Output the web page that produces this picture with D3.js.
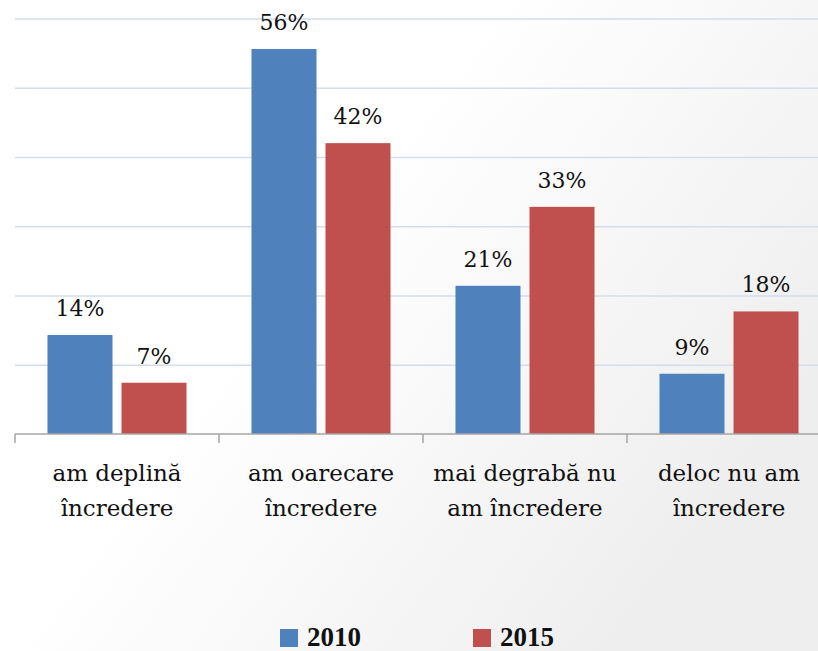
<!DOCTYPE html>
<html>
<head>
<meta charset="utf-8">
<script src="https://cdn.jsdelivr.net/npm/d3@7"></script>
<style>
  html, body { margin: 0; padding: 0; background: #fff; }
  svg { display: block; }
</style>
</head>
<body>
<svg id="chart" width="818" height="651"></svg>
<script>
const categories = [["am deplină", "încredere"], ["am oarecare", "încredere"], ["mai degrabă nu", "am încredere"], ["deloc nu am", "încredere"]];
const series = ["2010", "2015"];
const values2010 = [14.3, 55.6, 21.4, 8.7];
const values2015 = [7.4, 42.0, 32.8, 17.7];
const yTicks = [10, 20, 30, 40, 50, 60];
const colors = ["#4f81bd", "#c0504d"];

const svg = d3.select("#chart");
const W = 818, H = 651;

const defs = svg.append("defs");
const grad = defs.append("linearGradient").attr("id", "bg")
  .attr("x1", "0").attr("y1", "0").attr("x2", "1").attr("y2", "0.6");
grad.append("stop").attr("offset", "0.45").attr("stop-color", "#ffffff");
grad.append("stop").attr("offset", "1").attr("stop-color", "#eeeeee");
svg.append("rect").attr("width", W).attr("height", H).attr("fill", "url(#bg)");

const catKeys = categories.map((c, i) => i);
const x0 = d3.scaleBand().domain(catKeys).range([15, 831]).paddingInner(0).paddingOuter(0);
const x1 = d3.scaleBand().domain(series).range([0, x0.bandwidth()]).paddingInner(0.1216).paddingOuter(0.439);
const y = d3.scaleLinear().domain([0, 60]).range([434, 18.5]);

// gridlines
const grid = svg.append("g").attr("transform", "translate(15,0)")
  .call(d3.axisLeft(y).tickValues(yTicks).tickSize(-(W - 15)).tickFormat(""));
grid.select(".domain").remove();
grid.selectAll(".tick line").attr("stroke", "#d3ddee").attr("stroke-width", 1.5);

const data = catKeys.map(i => ({ i, vals: [values2010[i], values2015[i]] }));

const groups = svg.append("g").selectAll("g").data(data).join("g")
  .attr("transform", d => `translate(${x0(d.i)},0)`);

groups.selectAll("rect").data(d => d.vals.map((v, k) => ({ k, v }))).join("rect")
  .attr("x", d => x1(series[d.k]))
  .attr("y", d => y(d.v))
  .attr("width", x1.bandwidth())
  .attr("height", d => y(0) - y(d.v))
  .attr("fill", d => colors[d.k]);

groups.selectAll("text.val").data(d => d.vals.map((v, k) => ({ k, v }))).join("text")
  .attr("class", "val")
  .attr("x", d => x1(series[d.k]) + x1.bandwidth() / 2)
  .attr("y", d => y(d.v) - 19)
  .attr("text-anchor", "middle")
  .attr("font-family", "'DejaVu Serif', serif")
  .attr("font-size", 22)
  .attr("fill", "#111")
  .text(d => Math.round(d.v) + "%");

// x axis
const xAxis = svg.append("g").attr("transform", `translate(0,${y(0)})`);
xAxis.append("line").attr("x1", 15).attr("x2", W).attr("y1", 0).attr("y2", 0)
  .attr("stroke", "#a6a6a6").attr("stroke-width", 1.5);
const tickPos = catKeys.map(i => x0(i)).concat([x0.range()[1]]);
xAxis.selectAll("line.tk").data(tickPos).join("line").attr("class", "tk")
  .attr("x1", d => d).attr("x2", d => d).attr("y1", 0).attr("y2", 9)
  .attr("stroke", "#a6a6a6").attr("stroke-width", 1.5);

// category labels
const catLabels = svg.append("g").selectAll("text").data(data).join("text")
  .attr("text-anchor", "middle")
  .attr("font-family", "'DejaVu Serif', serif")
  .attr("font-size", 23)
  .attr("fill", "#111");
catLabels.each(function(d) {
  const t = d3.select(this);
  const cx = x0(d.i) + x0.bandwidth() / 2;
  categories[d.i].forEach((line, j) => {
    t.append("tspan").attr("x", cx).attr("y", 481 + j * 35).text(line);
  });
});

// legend
const legendX = [280, 473];
const legend = svg.append("g").selectAll("g").data(series).join("g")
  .attr("transform", (d, i) => `translate(${legendX[i]},629)`);
legend.append("rect").attr("width", 18).attr("height", 18).attr("fill", (d, i) => colors[i]);
legend.append("text").attr("x", 27).attr("y", 17)
  .attr("font-family", "'Liberation Serif', serif")
  .attr("font-weight", "bold")
  .attr("font-size", 27)
  .attr("fill", "#111")
  .text(d => d);
</script>
</body>
</html>
